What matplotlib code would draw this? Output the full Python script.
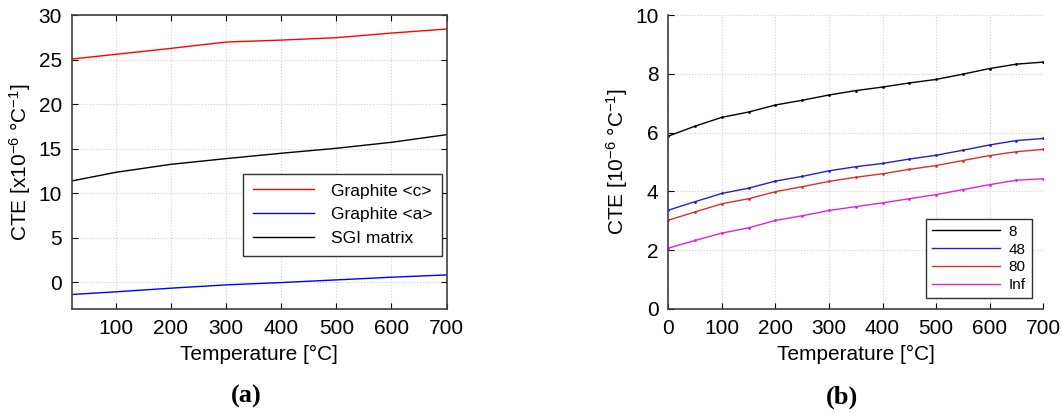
import numpy as np
import matplotlib
matplotlib.use('Agg')
import matplotlib.pyplot as plt

plt.rcParams['font.family'] = ['Liberation Sans', 'DejaVu Sans']
plt.rcParams['mathtext.fontset'] = 'custom'
plt.rcParams['mathtext.rm'] = 'Liberation Sans'
plt.rcParams['mathtext.it'] = 'Liberation Sans'
plt.rcParams['axes.unicode_minus'] = False

# (a) constituents
temp_a = [20, 100, 200, 300, 400, 500, 600, 700]
graphite_c = [25.06, 25.59, 26.26, 26.97, 27.19, 27.46, 27.98, 28.43]
graphite_a = [-1.38, -1.08, -0.67, -0.30, -0.04, 0.26, 0.56, 0.82]
sgi_matrix = [11.37, 12.34, 13.24, 13.88, 14.48, 15.04, 15.71, 16.57]

# (b) composite CTE for different aspect ratios
temp_b = [0, 50, 100, 150, 200, 250, 300, 350, 400, 450, 500, 550, 600, 650, 700]
cte_8 = [5.88, 6.22, 6.52, 6.70, 6.94, 7.10, 7.28, 7.43, 7.55, 7.69, 7.81, 7.99, 8.18, 8.33, 8.40]
cte_48 = [3.36, 3.65, 3.93, 4.11, 4.35, 4.51, 4.70, 4.84, 4.95, 5.10, 5.23, 5.40, 5.58, 5.73, 5.80]
cte_80 = [3.02, 3.30, 3.58, 3.75, 3.99, 4.16, 4.34, 4.48, 4.60, 4.75, 4.88, 5.05, 5.22, 5.35, 5.43]
cte_inf = [2.07, 2.33, 2.58, 2.76, 3.01, 3.17, 3.35, 3.48, 3.61, 3.75, 3.89, 4.06, 4.23, 4.38, 4.43]
labels_b = ['8', '48', '80', 'Inf']

fig = plt.figure(figsize=(10.62, 4.13), dpi=100)
ax1 = fig.add_axes([0.0675, 0.252, 0.353, 0.7115])
ax2 = fig.add_axes([0.6293, 0.252, 0.353, 0.7115])

grid_kw = dict(color='#d0d0d0', linestyle=':', linewidth=0.8)

ax1.plot(temp_a, graphite_c, color='#ff0000', lw=1.0, label='Graphite <c>')
ax1.plot(temp_a, graphite_a, color='#0000ff', lw=1.0, label='Graphite <a>')
ax1.plot(temp_a, sgi_matrix, color='black', lw=1.0, label='SGI matrix')
ax1.set_xlim(20, 700)
ax1.set_ylim(-3, 30)
ax1.set_xticks([100, 200, 300, 400, 500, 600, 700])
ax1.set_yticks([0, 5, 10, 15, 20, 25, 30])
ax1.grid(True, **grid_kw)
ax1.tick_params(direction='in', top=True, right=True, labelsize=15, length=4, pad=7)
for s in ax1.spines.values():
    s.set_color('#404040')
    s.set_linewidth(1.2)
ax1.set_xlabel('Temperature [°C]', fontsize=15, labelpad=5)
ax1.set_ylabel(r'CTE [x10$^{-6}$ °C$^{-1}$]', fontsize=15, labelpad=4)
leg1 = ax1.legend(loc='lower right', bbox_to_anchor=(0.988, 0.181), borderaxespad=0,
                  fontsize=12.5, handlelength=3.5, fancybox=False, framealpha=1,
                  borderpad=0.55, labelspacing=0.5, handletextpad=1.0)
leg1.get_frame().set_edgecolor('#303030')
leg1.get_frame().set_linewidth(1.0)

colors_b = ['black', '#2020d0', '#d83030', '#e020e0']
for y, c, lab in zip([cte_8, cte_48, cte_80, cte_inf], colors_b, labels_b):
    ax2.plot(temp_b, y, color=c, lw=1.0, marker='.', markersize=2, label=lab)
ax2.set_xlim(0, 700)
ax2.set_ylim(0, 10)
ax2.set_xticks(np.arange(0, 701, 100))
ax2.set_yticks([0, 2, 4, 6, 8, 10])
ax2.grid(True, **grid_kw)
ax2.tick_params(direction='in', labelsize=15, length=4, pad=7)
ax2.spines['top'].set_visible(False)
ax2.spines['right'].set_visible(False)
for s in ['left', 'bottom']:
    ax2.spines[s].set_color('#404040')
    ax2.spines[s].set_linewidth(1.2)
ax2.set_xlabel('Temperature [°C]', fontsize=15, labelpad=5)
ax2.set_ylabel(r'CTE [10$^{-6}$ °C$^{-1}$]', fontsize=15, labelpad=4)
leg2 = ax2.legend(loc='lower right', bbox_to_anchor=(0.97, 0.036), borderaxespad=0,
                  fontsize=11, handlelength=4.4, fancybox=False, framealpha=1,
                  borderpad=0.4, labelspacing=0.25, handletextpad=0.6)
leg2.get_frame().set_edgecolor('#303030')
leg2.get_frame().set_linewidth(1.0)
for h in leg2.legend_handles:
    h.set_marker('')

fig.text(0.2323, 0.039, '(a)', family='Liberation Serif', weight='bold', fontsize=19,
         ha='center', va='center')
fig.text(0.7926, 0.039, '(b)', family='Liberation Serif', weight='bold', fontsize=19,
         ha='center', va='center')

fig.savefig('out.png', dpi=100)
